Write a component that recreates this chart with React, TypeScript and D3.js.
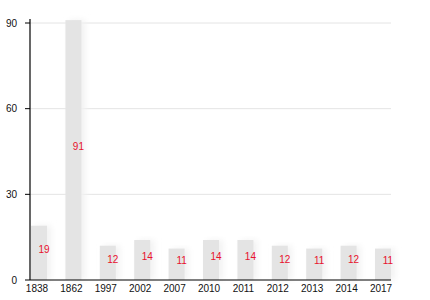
import React from "react";
import * as d3 from "d3";

const categories = ["1838", "1862", "1997", "2002", "2007", "2010", "2011", "2012", "2013", "2014", "2017"];
const values = [19, 91, 12, 14, 11, 14, 14, 12, 11, 12, 11];
const yTicks = [0, 30, 60, 90];

export default function App() {
  const W = 430, H = 300;
  const left = 30, right = 391, top = 23, bottom = 280;
  const x = d3.scaleBand<string>().domain(categories).range([left + 1, right]).paddingInner(0.535).paddingOuter(0);
  const y = d3.scaleLinear().domain([0, 90]).range([bottom, top]);
  const font = "'Liberation Sans', Arial, sans-serif";
  return (
    <svg width={W} height={H} style={{ position: "absolute", left: 0, top: 0 }}>
      <defs>
        <filter id="soft" x="-50%" y="-10%" width="200%" height="120%">
          <feGaussianBlur stdDeviation="1" />
        </filter>
        <filter id="shadow" x="-50%" y="-10%" width="250%" height="120%">
          <feGaussianBlur stdDeviation="3" />
        </filter>
      </defs>
      {yTicks.filter(t => t > 0).map(t => (
        <line key={t} x1={left} x2={right} y1={y(t)} y2={y(t)} stroke="#e4e4e4" strokeWidth={1} />
      ))}
      {categories.map((c, i) => (
        <rect key={"s" + c} x={(x(c) as number) + 4} y={y(values[i])} width={x.bandwidth()} height={bottom - y(values[i])}
          fill="#f2f2f2" filter="url(#shadow)" />
      ))}
      {categories.map((c, i) => (
        <rect key={c} x={x(c)} y={y(values[i])} width={x.bandwidth()} height={bottom - y(values[i])}
          fill="#e4e4e4" />
      ))}
      {categories.map((c, i) => (
        <text key={"l" + c} x={(x(c) as number) + x.bandwidth() / 2 + 5} y={(y(values[i]) + bottom) / 2}
          dy="0.0em" textAnchor="middle" fill="#e8112d" fontSize={10} fontFamily={font}>{values[i]}</text>
      ))}
      <line x1={left} x2={left} y1={top - 4} y2={bottom} stroke="#000" strokeWidth={1.2} />
      <line x1={left} x2={right} y1={bottom} y2={bottom} stroke="#000" strokeWidth={1.2} />
      {yTicks.map(t => (
        <g key={"t" + t}>
          <line x1={left - 5} x2={left} y1={y(t)} y2={y(t)} stroke="#000" strokeWidth={1} />
          <text x={17} y={y(t)} dy="0.35em" textAnchor="end" fontSize={10} fontFamily={font} fill="#111">{t}</text>
        </g>
      ))}
      {categories.map(c => (
        <text key={"x" + c} x={(x(c) as number) + x.bandwidth() / 2 - 2} y={292} textAnchor="middle" fontSize={10} fontFamily={font} fill="#111">{c}</text>
      ))}
    </svg>
  );
}
